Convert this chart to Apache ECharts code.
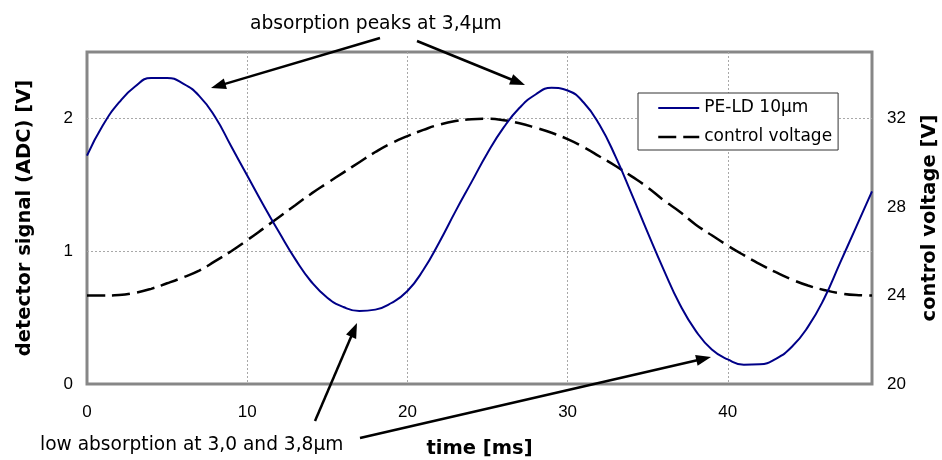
<!DOCTYPE html>
<html>
<head>
<meta charset="utf-8">
<script src="https://cdn.jsdelivr.net/npm/echarts@6/dist/echarts.min.js"></script>
<style>html,body{margin:0;padding:0;background:#fff;overflow:hidden}#c{width:942px;height:460px}</style>
</head>
<body>
<div id="c"></div>
<script>
// ---- data ----
var signalTime = [0,1,2,3,4,5,6,7,8,9,10,11,12,13,14,15,16,17,18,19,20,21,22,23,24,25,26,27,28,29,30,31,32,33,34,35,36,37,38,39,40,41,42,43,44,45,46,47,48,49];
var signalValues = [1.72,1.95,2.12,2.24,2.304,2.304,2.262,2.17,2.01,1.79,1.57,1.35,1.14,0.94,0.77,0.65,0.58,0.55,0.56,0.61,0.70,0.86,1.07,1.30,1.52,1.74,1.93,2.08,2.18,2.23,2.21,2.12,1.95,1.71,1.43,1.14,0.86,0.60,0.40,0.26,0.185,0.145,0.148,0.19,0.28,0.43,0.64,0.91,1.18,1.45];
var voltageTime = [0,1,2,3,4,5,6,7,8,9,10,11,12,13,14,15,16,17,18,19,20,21,22,23,24,25,26,27,28,29,30,31,32,33,34,35,36,37,38,39,40,41,42,43,44,45,46,47,48,49];
var voltageValues = [24.0,24.0,24.02,24.12,24.3,24.55,24.82,25.12,25.55,26.0,26.5,27.02,27.55,28.08,28.6,29.08,29.55,30.02,30.48,30.88,31.2,31.48,31.72,31.88,31.96,31.98,31.92,31.78,31.58,31.35,31.06,30.7,30.28,29.85,29.38,28.88,28.3,27.78,27.2,26.72,26.25,25.82,25.42,25.05,24.72,24.45,24.25,24.1,24.02,24.0];
var seriesNames = ['PE-LD 10µm', 'control voltage'];
var xTitle = 'time [ms]';
var yLeftTitle = 'detector signal (ADC) [V]';
var yRightTitle = 'control voltage [V]';
var noteTop = 'absorption peaks at 3,4µm';
var noteBottom = 'low absorption at 3,0 and 3,8µm';

var TICKFONT = "'Liberation Sans', Arial, sans-serif";
var FONT = "'DejaVu Sans', Verdana, sans-serif";
function pairs(xs, ys){ return xs.map(function(x,i){ return [x, ys[i]]; }); }

function arrow(x1,y1,x2,y2){
  var dx=x2-x1, dy=y2-y1, L=Math.sqrt(dx*dx+dy*dy), ux=dx/L, uy=dy/L;
  var hl=15, hw=5.5;
  var bx=x2-ux*hl, by=y2-uy*hl;
  return [
    {type:'line', shape:{x1:x1,y1:y1,x2:x2-ux*(hl-3),y2:y2-uy*(hl-3)}, style:{stroke:'#000',lineWidth:2.5}, z:100},
    {type:'polygon', shape:{points:[[x2,y2],[bx-uy*hw,by+ux*hw],[bx+uy*hw,by-ux*hw]]}, style:{fill:'#000'}, z:100}
  ];
}

var chart = echarts.init(document.getElementById('c'), null, {renderer:'canvas', width:942, height:460});
var graphics = [].concat(
  arrow(380,38,211,88),
  arrow(417,41,525,85),
  arrow(315,421,357,323),
  arrow(360,438,711,357),
  [
    {type:'text', x:250, y:24.5, style:{text:noteTop, font:'18.7px '+FONT, fill:'#000', verticalAlign:'middle'}, z:100},
    {type:'text', x:40, y:445.5, style:{text:noteBottom, font:'18.6px '+FONT, fill:'#000', verticalAlign:'middle'}, z:100}
  ]
);

var splitStyle = {color:'#a8a8a8', width:1, type:[2,2]};
var titleStyle = {fontSize:19.5, fontWeight:'bold', color:'#000', fontFamily:FONT};
var option = {
  animation:false,
  backgroundColor:'#fff',
  textStyle:{fontFamily:FONT},
  grid:{left:87, top:52, width:785, height:332, containLabel:false, outerBoundsMode:'none',
        show:true, borderColor:'#878787', borderWidth:3, backgroundColor:'transparent'},
  legend:{
    orient:'vertical', left:638, top:93,
    data:[{name:seriesNames[0]}, {name:seriesNames[1], lineStyle:{type:[18,7], width:2.5}}],
    backgroundColor:'#fff', borderColor:'#333', borderWidth:1,
    padding:[5,6,3,19], itemGap:9, itemWidth:41, itemHeight:16,
    itemStyle:{opacity:0},
    textStyle:{fontSize:17, color:'#000', fontFamily:FONT, lineHeight:20}
  },
  xAxis:{
    type:'value', min:0, max:49, interval:10,
    name:xTitle, nameLocation:'middle', nameGap:55,
    nameTextStyle:titleStyle,
    axisLine:{show:false}, axisTick:{show:false},
    axisLabel:{fontSize:17, color:'#000', margin:20, showMaxLabel:false, fontFamily:TICKFONT},
    splitLine:{show:true, showMinLine:false, showMaxLine:false, lineStyle:splitStyle}
  },
  yAxis:[
    {
      type:'value', min:0, max:2.5, interval:1, position:'left',
      name:yLeftTitle, nameLocation:'middle', nameGap:52, nameRotate:90,
      nameTextStyle:titleStyle,
      axisLine:{show:false}, axisTick:{show:false},
      axisLabel:{fontSize:17, color:'#000', margin:14, showMaxLabel:false, fontFamily:TICKFONT},
      splitLine:{show:true, showMinLine:false, showMaxLine:false, lineStyle:splitStyle}
    },
    {
      type:'value', min:20, max:35, interval:4, position:'right',
      name:yRightTitle, nameLocation:'middle', nameGap:48, nameRotate:90,
      nameTextStyle:titleStyle,
      axisLine:{show:false}, axisTick:{show:false},
      axisLabel:{fontSize:17, color:'#000', margin:15, showMaxLabel:false, fontFamily:TICKFONT},
      splitLine:{show:false}
    }
  ],
  series:[
    {
      name:seriesNames[0], type:'line', yAxisIndex:0, smooth:0.5, symbol:'none',
      data:pairs(signalTime, signalValues),
      lineStyle:{color:'#000088', width:2}, itemStyle:{color:'#000088'}, z:3
    },
    {
      name:seriesNames[1], type:'line', yAxisIndex:1, smooth:0.5, symbol:'none',
      data:pairs(voltageTime, voltageValues),
      lineStyle:{color:'#000', width:2.5, type:[18,7]}, itemStyle:{color:'#000'}, z:2
    }
  ],
  graphic:graphics
};
chart.setOption(option);
</script>
</body>
</html>
